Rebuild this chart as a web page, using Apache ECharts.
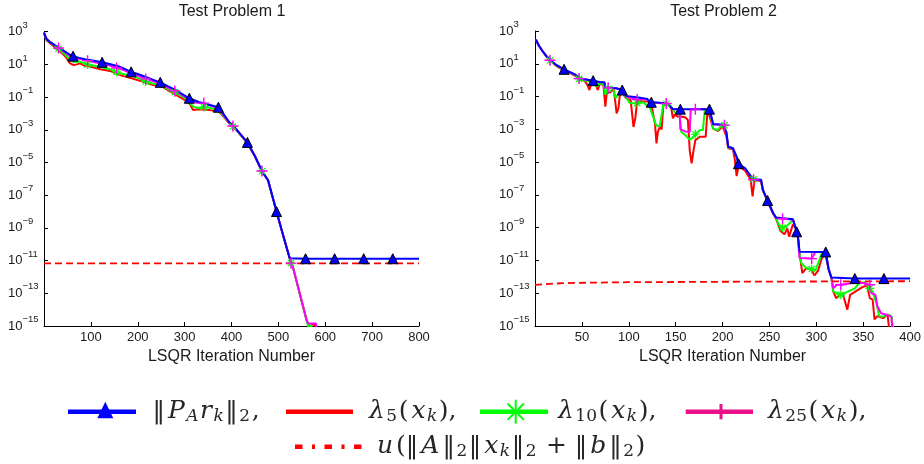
<!DOCTYPE html>
<html><head><meta charset="utf-8">
<script src="https://cdn.jsdelivr.net/npm/echarts@6/dist/echarts.min.js"></script>
<style>html,body{margin:0;padding:0;background:#fff}#c{width:924px;height:464px}</style>
</head><body><div id="c"></div>
<script>
// ---------- text ----------
const titles = ['Test Problem 1', 'Test Problem 2'];
const xAxisName = 'LSQR Iteration Number';
const xMax = [800, 400];
const xInterval = [100, 50];
const yTickValues = [1e-15, 1e-13, 1e-11, 1e-9, 1e-7, 1e-5, 1e-3, 1e-1, 1e1, 1e3];

// ---------- Test Problem 1 : [iteration, value] ----------
const p1Blue = [[0,9e2],[3,5e2],[6,3.5e2],[13,2.3e2],[23,1.5e2],[34,1e2],[45,6e1],[55,4e1],[62,3.2e1],[75,2.5e1],[90,2e1],[110,1.6e1],[124,1.35e1],[140,1.05e1],[160,7.5e0],[186,3.5e0],[200,2.6e0],[220,1.6e0],[235,1.1e0],[248,8e-1],[265,4.5e-1],[280,2.8e-1],[295,1.5e-1],[310,8.5e-2],[330,5e-2],[350,3.5e-2],[372,2.4e-2],[382,1e-2],[395,3e-3],[410,1.1e-3],[420,5e-4],[434,1.7e-4],[450,2.5e-5],[465,3e-6],[478,8.5e-7],[496,1e-8],[510,3.7e-10],[524,1.4e-11],[558,1.3e-11],[620,1.3e-11],[682,1.3e-11],[744,1.3e-11],[800,1.3e-11]];
const p1Red = [[0,8e2],[5,3e2],[13,2e2],[30,7.5e1],[40,4.5e1],[48,2.5e1],[55,1.2e1],[63,9e0],[70,1e1],[77,1.15e1],[88,8e0],[98,7.5e0],[110,6e0],[120,5e0],[141,4e0],[162,2.2e0],[187,1.4e0],[212,8.7e-1],[233,5.5e-1],[250,4.8e-1],[265,2.6e-1],[276,1.7e-1],[301,6.6e-2],[312,3.5e-2],[318,1.6e-2],[330,1.8e-2],[354,1.6e-2],[365,1.4e-2],[373,1.3e-2],[382,7e-3],[395,2.5e-3],[410,1e-3],[420,4.5e-4],[434,1.5e-4],[450,2.3e-5],[465,2.8e-6],[478,8e-7],[496,1e-8],[510,3.5e-10],[524,1.5e-11],[531,4e-12],[560,2.3e-15],[566,9e-16],[572,1.2e-15],[578,1.2e-15],[582,3e-16]];
const p1Green = [[0,8.5e2],[5,3.5e2],[13,2.2e2],[31,9e1],[45,4e1],[55,2e1],[63,1.4e1],[75,1.5e1],[93,1e1],[110,8e0],[124,6.5e0],[141,5e0],[155,3.5e0],[170,2.5e0],[187,2e0],[200,1.5e0],[217,9e-1],[233,6.5e-1],[250,5.2e-1],[265,3e-1],[279,2e-1],[300,9e-2],[311,4.2e-2],[320,2.5e-2],[333,2.1e-2],[341,2.5e-2],[355,2.2e-2],[373,1.5e-2],[382,8e-3],[395,2.7e-3],[403,1.6e-3],[410,1.05e-3],[420,4.6e-4],[434,1.6e-4],[450,2.4e-5],[465,2.9e-6],[478,8e-7],[496,1e-8],[510,3.6e-10],[524,1.5e-11],[527,7e-12],[531,4e-12],[560,2.3e-15],[565,7e-16],[570,1.1e-15],[575,5e-16]];
const p1Magenta = [[0,9e2],[5,4e2],[13,2.3e2],[31,1e2],[45,5.5e1],[55,3.2e1],[62,2.5e1],[75,2.2e1],[93,1.7e1],[110,1.3e1],[124,1.1e1],[140,8.5e0],[155,6e0],[170,4.5e0],[186,2.8e0],[200,2.1e0],[217,1.3e0],[235,9e-1],[248,6.5e-1],[265,3.7e-1],[279,2.4e-1],[295,1.3e-1],[310,7e-2],[325,4.5e-2],[341,4.3e-2],[355,3e-2],[372,2e-2],[382,9e-3],[395,2.8e-3],[403,1.7e-3],[410,1.1e-3],[420,4.8e-4],[434,1.6e-4],[450,2.4e-5],[465,3e-6],[478,8e-7],[496,1e-8],[510,3.6e-10],[524,1.5e-11],[527,7e-12],[531,4e-12],[560,2.5e-15],[563,1.5e-15],[568,1.4e-15],[580,1.4e-15],[584,3e-16]];
const p1Bound = [[0,6.8e-12],[800,6.8e-12]];
const p1BlueMarks = [62,124,186,248,310,372,434,496,558,620,682,744];
const p1StarMarks = [31,93,155,217,279,341,403,465,527];

// ---------- Test Problem 2 : [iteration, value] ----------
const p2Blue = [[1,3e2],[4,1.3e2],[8,6e1],[12,3e1],[16,1.7e1],[22,9e0],[31,4.6e0],[38,3e0],[43,2.2e0],[48,1.3e0],[55,1.1e0],[62,9.3e-1],[69,7.8e-1],[74,7.5e-1],[75,3.7e-1],[87,3.2e-1],[93,2.5e-1],[97,1.1e-1],[112,8.5e-2],[120,7e-2],[122,4.6e-2],[124,4.5e-2],[140,3.9e-2],[147,1.75e-2],[155,1.7e-2],[186,1.7e-2],[190,2.1e-3],[200,1.9e-3],[204,7e-4],[206,8.7e-5],[211,7e-5],[215,2.1e-5],[217,8e-6],[224,4.2e-6],[232,9e-7],[241,8.5e-7],[243,2e-7],[248,4.5e-8],[254,7.6e-9],[257,4.2e-9],[275,3.3e-9],[278,9e-10],[279,5.6e-10],[281,1.5e-10],[282,3.4e-11],[310,3.3e-11],[313,3e-12],[316,9e-13],[341,7.8e-13],[372,7.8e-13],[400,7.8e-13]];
const p2Red = [[1,3e2],[4,1.3e2],[8,6e1],[12,2.8e1],[16,1.6e1],[22,8e0],[31,3.8e0],[38,2.6e0],[43,1.8e0],[48,1.1e0],[53,9e-1],[56,5e-1],[58,2.5e-1],[60,6e-1],[62,7e-1],[65,5e-1],[67,2.5e-1],[69,6e-1],[73,5e-1],[75,2.4e-2],[76.5,1.6e-1],[80,1.8e-1],[84,2.8e-1],[87,9.5e-3],[89,2e-2],[91,2.5e-1],[93,2.2e-1],[97,8e-2],[102,6e-2],[105,1.4e-3],[107,5e-3],[109,6e-2],[115,5e-2],[120,5e-2],[124,3.5e-2],[126,2.7e-2],[128,2e-3],[129.5,1.4e-4],[131,7e-4],[133,1.4e-3],[135,1e-3],[137,3.9e-2],[140,3.5e-2],[145,2.5e-2],[147,4.7e-3],[149,8e-3],[152,6e-3],[155,6e-3],[160,5.5e-3],[163,3.7e-3],[165,5e-5],[167,8.5e-6],[169,5e-5],[171,2.2e-4],[176,3.5e-4],[182,3.5e-4],[184,1.7e-2],[186,1.7e-2],[190,1.1e-3],[195,8e-4],[200,1.5e-3],[204,4e-4],[206,7e-5],[211,6e-5],[213,1.5e-5],[215,1.4e-6],[217,6e-6],[224,3e-6],[230,8e-7],[232,8e-8],[234,8e-7],[241,7e-7],[243,1.8e-7],[248,4e-8],[254,7e-9],[257,3.5e-9],[262,6e-10],[266,4e-10],[269,9e-10],[271,2.8e-10],[275,1.6e-9],[278,9e-10],[280,4e-10],[282,3e-11],[285,1.7e-12],[289,3.3e-12],[294,3e-12],[298,1.2e-12],[302,2.5e-12],[305,1e-11],[309,3.3e-11],[310,3.3e-11],[313,3e-12],[316,9e-13],[318,1.3e-13],[321,5e-14],[328,1e-13],[333,1e-14],[336,8e-14],[341,1.2e-13],[350,2.5e-13],[354,3e-13],[357,5e-14],[360,4e-14],[362,2.5e-15],[365,4e-15],[371,3e-15],[376,5e-15],[379,1e-16]];
const p2Green = [[1,3e2],[4,1.3e2],[8,6e1],[12,3e1],[16,1.6e1],[22,8.5e0],[31,4.2e0],[38,2.8e0],[43,2e0],[47,1.2e0],[55,9e-1],[62,8e-1],[66,4e-1],[69,6.5e-1],[73,5.5e-1],[75,1.3e-1],[78,3e-1],[83,3.7e-1],[86,8e-2],[89,1.5e-1],[91,2.5e-1],[93,2.3e-1],[97,9e-2],[101,4e-2],[105,3.9e-2],[109,4e-2],[115,4.5e-2],[119,3e-2],[122,2.4e-2],[126,6e-3],[129,1.8e-3],[133,1.5e-3],[135,1.5e-3],[137,3.9e-2],[140,3.6e-2],[145,2.5e-2],[149,1.1e-2],[154,1e-2],[156,7e-4],[161,4e-4],[165,2.3e-4],[168,3e-4],[171,5e-4],[176,9e-4],[179,9e-4],[181,1.5e-2],[186,1.7e-2],[190,1.1e-3],[195,9e-4],[198,1.6e-3],[202,1.8e-3],[204,6e-4],[206,8e-5],[211,6.5e-5],[215,2e-5],[217,7e-6],[224,4e-6],[233,9e-7],[241,8e-7],[243,1.9e-7],[248,4.3e-8],[254,7.5e-9],[257,4e-9],[260,1.5e-9],[264,1e-9],[268,1.2e-9],[272,2e-9],[275,3e-9],[278,9e-10],[280,5e-10],[282,3e-11],[284,6.8e-12],[290,3.2e-12],[295,3e-12],[299,2.5e-12],[303,1e-11],[306,3e-11],[310,3.3e-11],[313,3e-12],[316,9e-13],[318,1.3e-13],[326,8e-14],[334,1.3e-13],[341,2e-13],[346,4.5e-13],[352,4.5e-13],[357,2e-13],[360,1.2e-13],[364,2.5e-14],[367,4e-15],[371,3.7e-15],[376,5e-15],[380,4e-15],[384,1e-16]];
const p2Magenta = [[1,3e2],[4,1.3e2],[8,6e1],[12,3e1],[16,1.65e1],[22,8.8e0],[31,4.5e0],[38,2.9e0],[43,2.1e0],[47,1.25e0],[55,1.05e0],[62,9e-1],[69,7.6e-1],[74,7e-1],[75,3.5e-1],[78,3.4e-1],[87,3.1e-1],[93,2.4e-1],[97,1e-1],[109,6.5e-2],[115,7e-2],[120,6.5e-2],[124,4.4e-2],[140,3.8e-2],[147,1.7e-2],[154,1.6e-2],[155,1e-3],[160,7.5e-4],[165,7e-4],[166,1.6e-2],[171,1.7e-2],[186,1.7e-2],[190,2e-3],[200,1.9e-3],[202,1.8e-3],[204,6.5e-4],[206,8.5e-5],[211,7e-5],[215,2e-5],[217,7.5e-6],[224,4e-6],[233,8.5e-7],[241,8.2e-7],[243,2e-7],[248,4.4e-8],[254,7.5e-9],[257,4e-9],[264,3.5e-9],[275,3.2e-9],[278,9e-10],[280,5e-10],[282,1.4e-11],[290,1.35e-11],[295,1.3e-11],[299,3.3e-11],[310,3.3e-11],[313,3e-12],[316,9e-13],[318,2e-13],[322,3.3e-13],[326,3.3e-13],[341,4.5e-13],[352,4e-13],[357,3.3e-13],[358,1.1e-13],[363,8e-14],[365,1.6e-14],[369,6e-15],[374,5e-15],[380,3.7e-15],[382,1e-16]];
const p2Bound = [[0,3.2e-13],[10,3.6e-13],[30,4.1e-13],[60,4.4e-13],[100,4.7e-13],[200,5e-13],[300,5.2e-13],[400,5.4e-13]];
const p2BlueMarks = [31,62,93,124,155,186,217,248,279,310,341,372];
const p2StarMarks = [16,47,78,109,140,171,202,233,264,295,326,357];

// ---------- styling ----------
const C_BLUE = '#0000ff', C_RED = '#ff0000', C_GREEN = '#00ff00', C_MAG = '#ff00ff';
const SANS = 'Liberation Sans, Arial, sans-serif';
const STAR_PATH = 'path://M0,5L10,5M5,0L5,10M1.5,1.5L8.5,8.5M1.5,8.5L8.5,1.5';
const PLUS_PATH = 'path://M0,5L10,5M5,0L5,10';

function withMarks(points, marks) {
  return points.map(p => marks.indexOf(p[0]) >= 0 ? { value: p } : { value: p, symbol: 'none' });
}
function lineSeries(idx, points, marks, color, kind) {
  const s = {
    type: 'line', xAxisIndex: idx, yAxisIndex: idx, silent: true, animation: false,
    data: withMarks(points, marks), showSymbol: true, clip: true,
    lineStyle: { color: color, width: 2 }, emphasis: { disabled: true }
  };
  if (kind === 'tri') {
    s.symbol = 'triangle'; s.symbolSize = 10;
    s.itemStyle = { color: C_BLUE, borderColor: '#000', borderWidth: 1 };
  } else if (kind === 'star') {
    s.symbol = STAR_PATH; s.symbolSize = 9;
    s.itemStyle = { color: 'none', borderColor: color, borderWidth: 1.2 };
  } else if (kind === 'plus') {
    s.symbol = PLUS_PATH; s.symbolSize = 11;
    s.itemStyle = { color: 'none', borderColor: color, borderWidth: 1.4 };
  } else {
    s.symbol = 'none'; s.data = points;
  }
  return s;
}
function boundSeries(idx, points) {
  return { type: 'line', xAxisIndex: idx, yAxisIndex: idx, silent: true, animation: false,
    data: points, symbol: 'none', clip: true,
    lineStyle: { color: C_RED, width: 1.8, type: [7, 4] } };
}
function powLabel(v) {
  const e = Math.round(Math.log10(v));
  return '{b|10}{e|' + String(e).replace('-', '\u2212') + '}';
}

const grids = [
  { left: 44, top: 31.7, width: 375, height: 294.3 },
  { left: 535, top: 31, width: 375.7, height: 295 }
];

const xAxes = grids.map((g, i) => ({
  type: 'value', gridIndex: i, min: 0, max: xMax[i], interval: xInterval[i],
  name: xAxisName, nameLocation: 'middle', nameGap: 19,
  nameTextStyle: { fontFamily: SANS, fontSize: 16, color: '#1a1a1a' },
  axisLine: { show: true, lineStyle: { color: '#000', width: 1 } },
  axisTick: { show: true, inside: true, length: 4, lineStyle: { color: '#000' } },
  axisLabel: { showMinLabel: false, margin: 5, fontFamily: SANS, fontSize: 13, color: '#1a1a1a' },
  splitLine: { show: false }
}));
const yAxes = grids.map((g, i) => ({
  type: 'log', logBase: 10, gridIndex: i, min: 1e-15, max: 1e3,
  axisLine: { show: true, lineStyle: { color: '#000', width: 1 } },
  axisTick: { show: true, inside: true, length: 4, lineStyle: { color: '#000' }, customValues: yTickValues },
  axisLabel: {
    customValues: yTickValues, formatter: powLabel, align: 'left', margin: 36,
    rich: {
      b: { fontFamily: SANS, fontSize: 13, color: '#1a1a1a', lineHeight: 14 },
      e: { fontFamily: SANS, fontSize: 9.5, color: '#1a1a1a', lineHeight: 10, padding: [0, 0, 13, 0] }
    }
  },
  splitLine: { show: false }
}));

// ---------- legend (drawn as graphic) ----------
const LF = 'DejaVu Serif';
const legendRich = {
  n: { fontFamily: LF, fontSize: 25, fontStyle: 'normal', padding: [0, 1.5, 0, 1.5] },
  i: { fontFamily: LF, fontSize: 25, fontStyle: 'italic', padding: [0, 1.5, 0, 1.5] },
  s: { fontFamily: LF, fontSize: 17, fontStyle: 'normal', padding: [10, 0, 0, 0] },
  si: { fontFamily: LF, fontSize: 17, fontStyle: 'italic', padding: [10, 0, 0, 0] }
};
const legendTexts = [
  '{n|\u2016}{i|P}{si|A}{i|r}{si|k}{n|\u2016}{s|2}{n|,}',
  '{i|\u03bb}{s|5}{n|(}{i|x}{si|k}{n|),}',
  '{i|\u03bb}{s|10}{n|(}{i|x}{si|k}{n|),}',
  '{i|\u03bb}{s|25}{n|(}{i|x}{si|k}{n|),}',
  '{i|u}{n|(\u2016}{i|A}{n|\u2016}{s|2}{n|\u2016}{i|x}{si|k}{n|\u2016}{s|2}{n| + \u2016}{i|b}{n|\u2016}{s|2}{n|)}'
];
function text(x, y, t) {
  return { type: 'text', x: x, y: y, silent: true,
    style: { text: t, rich: legendRich, fill: '#262626', align: 'left', verticalAlign: 'middle' } };
}
function seg(x1, y1, x2, y2, color, w, dash) {
  return { type: 'line', silent: true, shape: { x1: x1, y1: y1, x2: x2, y2: y2 },
    style: { stroke: color, lineWidth: w, lineDash: dash || null, lineCap: 'butt' } };
}
const R1 = 411.7, R2 = 446.7, LEG_PINK = '#e8118a';
const graphics = [
  seg(68, R1, 136, R1, C_BLUE, 4.5),
  { type: 'polygon', silent: true, shape: { points: [[105.3, 401.7], [97.3, 418.3], [113.3, 418.3]] }, style: { fill: C_BLUE } },
  text(151, R1, legendTexts[0]),
  seg(286, R1, 353, R1, C_RED, 4.5),
  text(367.5, R1, legendTexts[1]),
  seg(480, R1, 548, R1, C_GREEN, 4.5),
  seg(515.7, 399.7, 515.7, 423.7, C_GREEN, 2),
  seg(507.5, 403.5, 523.9, 419.9, C_GREEN, 2),
  seg(507.5, 419.9, 523.9, 403.5, C_GREEN, 2),
  text(556.5, R1, legendTexts[2]),
  seg(685.7, R1, 753, R1, LEG_PINK, 4.5),
  seg(721, 404, 721, 419.3, LEG_PINK, 3),
  text(766.5, R1, legendTexts[3]),
  seg(295, R2, 363, R2, C_RED, 4.5, [7.5, 9.5, 3, 9.5]),
  text(375.5, R2, legendTexts[4])
];

const option = {
  backgroundColor: '#fff',
  animation: false,
  title: titles.map((t, i) => ({
    text: t, left: i === 0 ? 232 : 723.5, top: 4, textAlign: 'center', padding: 0,
    textStyle: { fontFamily: SANS, fontSize: 16, fontWeight: 'normal', color: '#1a1a1a' }
  })),
  grid: grids,
  xAxis: xAxes,
  yAxis: yAxes,
  series: [
    lineSeries(0, p1Red, [], C_RED, 'none'),
    lineSeries(0, p1Green, p1StarMarks, C_GREEN, 'star'),
    lineSeries(0, p1Magenta, p1StarMarks, C_MAG, 'plus'),
    lineSeries(0, p1Blue, p1BlueMarks, C_BLUE, 'tri'),
    boundSeries(0, p1Bound),
    lineSeries(1, p2Red, [], C_RED, 'none'),
    lineSeries(1, p2Green, p2StarMarks, C_GREEN, 'star'),
    lineSeries(1, p2Magenta, p2StarMarks, C_MAG, 'plus'),
    lineSeries(1, p2Blue, p2BlueMarks, C_BLUE, 'tri'),
    boundSeries(1, p2Bound)
  ],
  graphic: graphics
};
const chart = echarts.init(document.getElementById('c'), null, { renderer: 'canvas' });
chart.setOption(option);
</script>
</body></html>
